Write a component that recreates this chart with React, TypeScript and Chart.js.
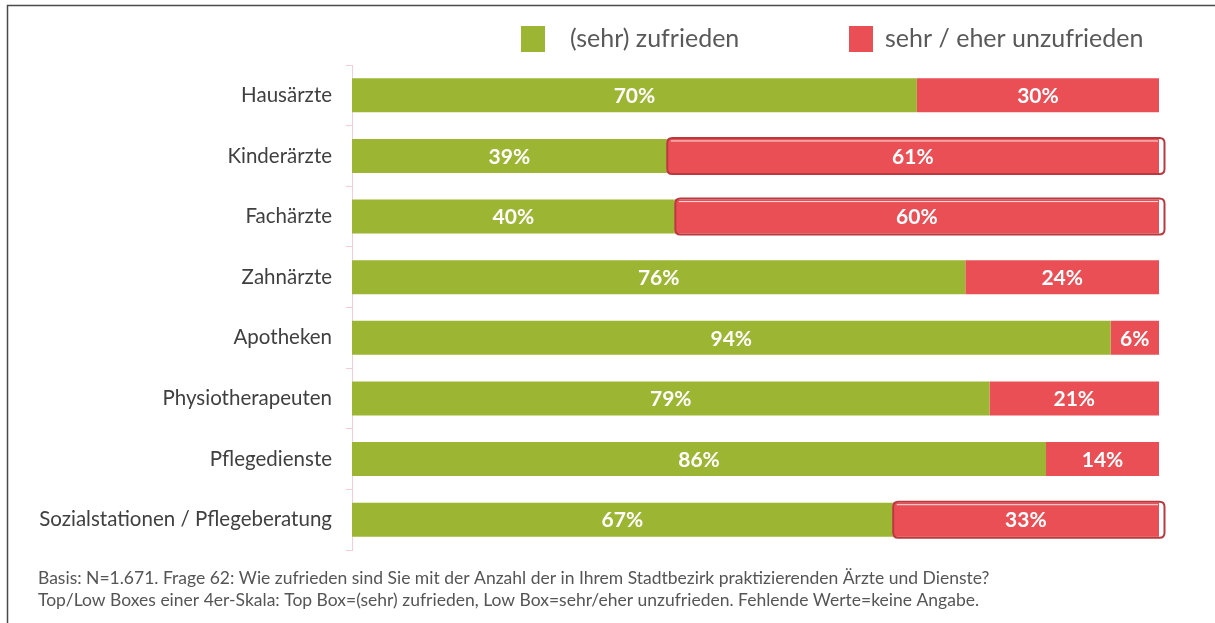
import React, { useEffect, useRef } from "react";
import { Chart, registerables } from "chart.js";

Chart.register(...registerables);

const categories = [
  "Hausärzte",
  "Kinderärzte",
  "Fachärzte",
  "Zahnärzte",
  "Apotheken",
  "Physiotherapeuten",
  "Pflegedienste",
  "Sozialstationen / Pflegeberatung",
];
const zufrieden = [70, 39, 40, 76, 94, 79, 86, 67];
const unzufrieden = [30, 61, 60, 24, 6, 21, 14, 33];
const highlighted = [1, 2, 7];
const seriesNames = ["(sehr) zufrieden", "sehr / eher unzufrieden"];
const footnotes = [
  "Basis: N=1.671. Frage 62: Wie zufrieden sind Sie mit der Anzahl der in Ihrem Stadtbezirk praktizierenden Ärzte und Dienste?",
  "Top/Low Boxes einer 4er-Skala: Top Box=(sehr) zufrieden, Low Box=sehr/eher unzufrieden. Fehlende Werte=keine Angabe.",
];

const GREEN = "#9CB633";
const RED = "#E94F55";
const FONT = "Lato, 'Open Sans', sans-serif";

function roundRect(ctx: CanvasRenderingContext2D, x: number, y: number, w: number, h: number, r: number) {
  ctx.beginPath();
  ctx.moveTo(x + r, y);
  ctx.lineTo(x + w - r, y);
  ctx.quadraticCurveTo(x + w, y, x + w, y + r);
  ctx.lineTo(x + w, y + h - r);
  ctx.quadraticCurveTo(x + w, y + h, x + w - r, y + h);
  ctx.lineTo(x + r, y + h);
  ctx.quadraticCurveTo(x, y + h, x, y + h - r);
  ctx.lineTo(x, y + r);
  ctx.quadraticCurveTo(x, y, x + r, y);
  ctx.closePath();
}

const decorPlugin = {
  id: "decor",
  beforeDraw(chart: any) {
    const ctx = chart.ctx as CanvasRenderingContext2D;
    ctx.save();
    ctx.fillStyle = "#ffffff";
    ctx.fillRect(0, 0, chart.width, chart.height);
    ctx.strokeStyle = "#4a4a4a";
    ctx.lineWidth = 1.5;
    ctx.beginPath();
    ctx.moveTo(chart.width, 5.5);
    ctx.lineTo(7.5, 5.5);
    ctx.lineTo(7.5, chart.height);
    ctx.stroke();
    ctx.restore();
  },
  afterDatasetsDraw(chart: any) {
    const ctx = chart.ctx as CanvasRenderingContext2D;
    ctx.save();
    const redMeta = chart.getDatasetMeta(1);
    highlighted.forEach((i) => {
      const el = redMeta.data[i];
      if (!el) return;
      const left = el.base;
      const right = el.x;
      const top = el.y - el.height / 2;
      const h = el.height;
      ctx.fillStyle = "#ffffff";
      ctx.fillRect(right, top - 1, 5, h + 2);
      ctx.strokeStyle = "#fbe3e4";
      ctx.lineWidth = 1;
      ctx.beginPath();
      ctx.moveTo(left + 4, top + 2);
      ctx.lineTo(right - 1, top + 2);
      ctx.stroke();
      roundRect(ctx, left + 0.5, top - 1, right - left + 5, h + 2, 5);
      ctx.strokeStyle = "#B9393F";
      ctx.lineWidth = 2;
      ctx.stroke();
    });
    ctx.fillStyle = "#ffffff";
    ctx.font = `bold 21px ${FONT}`;
    ctx.textAlign = "center";
    ctx.textBaseline = "middle";
    chart.data.datasets.forEach((ds: any, di: number) => {
      const meta = chart.getDatasetMeta(di);
      meta.data.forEach((el: any, i: number) => {
        const v = ds.data[i];
        ctx.fillText(`${v}%`, (el.x + el.base) / 2, el.y + 1);
      });
    });
    ctx.restore();
  },
  afterDraw(chart: any) {
    const ctx = chart.ctx as CanvasRenderingContext2D;
    ctx.save();
    ctx.textBaseline = "middle";
    ctx.textAlign = "left";
    const items = [
      { x: 521, color: GREEN, label: seriesNames[0], tx: 570 },
      { x: 849, color: RED, label: seriesNames[1], tx: 885 },
    ];
    ctx.font = `25px ${FONT}`;
    items.forEach((it) => {
      ctx.fillStyle = it.color;
      ctx.fillRect(it.x, 26, 24, 26);
      ctx.fillStyle = "#595959";
      ctx.fillText(it.label, it.tx, 39);
    });
    ctx.font = `17.5px ${FONT}`;
    ctx.fillStyle = "#555555";
    ctx.fillText(footnotes[0], 38, 578);
    ctx.fillText(footnotes[1], 38, 600);
    ctx.restore();
  },
};

export default function App() {
  const ref = useRef<HTMLCanvasElement | null>(null);
  useEffect(() => {
    if (!ref.current) return;
    const chart = new Chart(ref.current, {
      type: "bar",
      data: {
        labels: categories,
        datasets: [
          {
            label: seriesNames[0],
            data: zufrieden,
            backgroundColor: GREEN,
            borderWidth: 0,
            categoryPercentage: 1,
            barPercentage: 0.56,
          },
          {
            label: seriesNames[1],
            data: unzufrieden,
            backgroundColor: RED,
            borderWidth: 0,
            categoryPercentage: 1,
            barPercentage: 0.56,
          },
        ],
      },
      options: {
        indexAxis: "y",
        responsive: false,
        animation: false,
        layout: { padding: { left: 0, top: 65, right: 56, bottom: 73 } },
        plugins: {
          legend: { display: false },
          tooltip: { enabled: false },
        },
        scales: {
          x: { stacked: true, min: 0, max: 100, display: false },
          y: {
            stacked: true,
            afterFit: (scale: any) => {
              scale.width = 352;
            },
            grid: {
              display: true,
              drawOnChartArea: false,
              drawTicks: true,
              tickLength: 6,
              color: "#F6CDD2",
              lineWidth: 1,
              offset: true,
            },
            border: { display: true, color: "#F6CDD2", width: 1 },
            ticks: {
              padding: 14,
              color: "#404040",
              font: { family: FONT, size: 20.5 },
            },
          },
        },
      },
      plugins: [decorPlugin],
    });
    return () => chart.destroy();
  }, []);
  return (
    <div style={{ position: "absolute", left: 0, top: 0, width: 1215, height: 623 }}>
      <canvas ref={ref} width={1215} height={623} />
    </div>
  );
}
